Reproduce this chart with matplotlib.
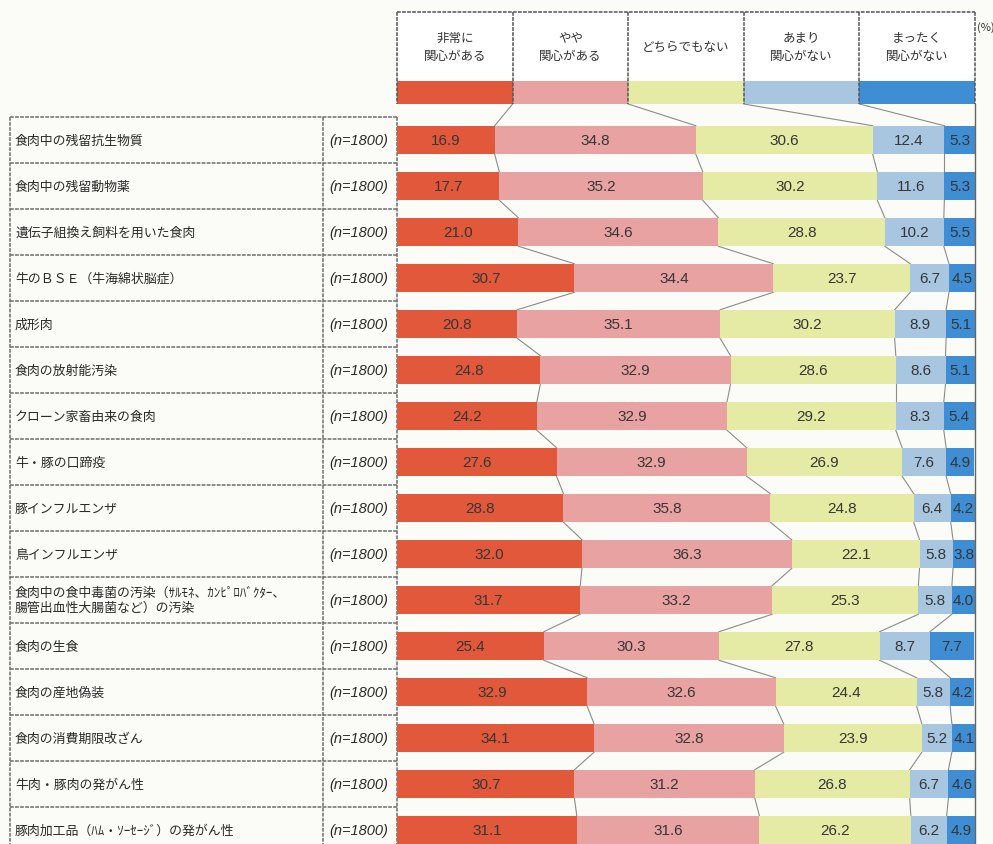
import numpy as np
from matplotlib import pyplot as plt
from matplotlib.patches import Rectangle

plt.rcParams['font.family'] = ['Noto Sans CJK JP', 'DejaVu Sans']

# 項目（上から順）
項目 = ['食肉中の残留抗生物質',
      '食肉中の残留動物薬',
      '遺伝子組換え飼料を用いた食肉',
      '牛のＢＳＥ（牛海綿状脳症）',
      '成形肉',
      '食肉の放射能汚染',
      'クローン家畜由来の食肉',
      '牛・豚の口蹄疫',
      '豚インフルエンザ',
      '鳥インフルエンザ',
      '食肉中の食中毒菌の汚染（ｻﾙﾓﾈ、ｶﾝﾋﾟﾛﾊﾞｸﾀｰ、\n腸管出血性大腸菌など）の汚染',
      '食肉の生食',
      '食肉の産地偽装',
      '食肉の消費期限改ざん',
      '牛肉・豚肉の発がん性',
      '豚肉加工品（ﾊﾑ・ｿｰｾｰｼﾞ）の発がん性']
n表示 = '(n=1800)'

非常に関心がある = [16.9, 17.7, 21.0, 30.7, 20.8, 24.8, 24.2, 27.6, 28.8, 32.0, 31.7, 25.4, 32.9, 34.1, 30.7, 31.1]
やや関心がある = [34.8, 35.2, 34.6, 34.4, 35.1, 32.9, 32.9, 32.9, 35.8, 36.3, 33.2, 30.3, 32.6, 32.8, 31.2, 31.6]
どちらでもない = [30.6, 30.2, 28.8, 23.7, 30.2, 28.6, 29.2, 26.9, 24.8, 22.1, 25.3, 27.8, 24.4, 23.9, 26.8, 26.2]
あまり関心がない = [12.4, 11.6, 10.2, 6.7, 8.9, 8.6, 8.3, 7.6, 6.4, 5.8, 5.8, 8.7, 5.8, 5.2, 6.7, 6.2]
まったく関心がない = [5.3, 5.3, 5.5, 4.5, 5.1, 5.1, 5.4, 4.9, 4.2, 3.8, 4.0, 7.7, 4.2, 4.1, 4.6, 4.9]

凡例 = ['非常に\n関心がある', 'やや\n関心がある', 'どちらでもない', 'あまり\n関心がない', 'まったく\n関心がない']
色 = ['#e1583b', '#e8a2a2', '#e5eba5', '#a8c6df', '#3f8dd2']

# レイアウト（ピクセル）
W, H = 993, 845
X0, X1 = 397, 975      # 0% / 100%
ROW0, ROWH = 141, 46   # 1行目の中心, 行間
scale = (X1 - X0) / 100


def px_x(p):
    return (p - X0) / scale


def px_y(p):
    return (p - ROW0) / ROWH


def main():
    fig = plt.figure(figsize=(W / 100, H / 100), dpi=100)
    fig.patch.set_facecolor('#fbfbf7')
    ax = fig.add_axes([0, 0, 1, 1])
    ax.set_xlim(px_x(0), px_x(W))
    ax.set_ylim(px_y(H), px_y(0))
    ax.axis('off')

    data = np.array([非常に関心がある, やや関心がある, どちらでもない,
                     あまり関心がない, まったく関心がない]).T
    n = len(項目)
    y = np.arange(n)
    h = 0.62
    cum = np.hstack([np.zeros((n, 1)), np.cumsum(data, axis=1)])

    # 左の表
    line_kw = dict(color='#6e6e6e', lw=1.1, ls=(0, (2.5, 0.8)))
    for k in range(n + 1):
        ax.plot([px_x(10), px_x(X0)], [k - 0.5, k - 0.5], **line_kw)
    for xp in [10, 323, X0]:
        ax.plot([px_x(xp)] * 2, [-0.5, px_y(H)], **line_kw)
    for i, name in enumerate(項目):
        ax.text(px_x(15), i, name, ha='left', va='center', fontsize=9.3, color='#2a2a2a')
        ax.text(px_x(329), i, n表示, ha='left', va='center', fontsize=10.5,
                style='italic', family=['Liberation Sans', 'DejaVu Sans'], color='#2a2a2a')

    # 帯グラフ
    for j in range(5):
        ax.barh(y, data[:, j], left=cum[:, j], height=h, color=色[j], edgecolor='none', zorder=2)
        for i in range(n):
            v = data[i, j]
            ax.text(cum[i, j] + v / 2, i, f'{v:.1f}', ha='center', va='center', fontsize=11,
                    family=['Liberation Sans', 'DejaVu Sans'], color='#363636', zorder=3)

    # 行間の連結線
    for i in range(n - 1):
        for k in range(1, 5):
            ax.plot([cum[i, k], cum[i + 1, k]], [i + h / 2, i + 1 - h / 2],
                    color='#8c8c8c', lw=0.8, zorder=1)

    # 凡例ヘッダー
    top, mid, bot = px_y(13), px_y(82), px_y(105)
    ax.add_patch(Rectangle((0, top), 100, bot - top, fill=True, facecolor='white',
                           edgecolor='none', zorder=0))
    ax.barh([(mid + bot) / 2] * 5, [20] * 5, left=np.arange(5) * 20, height=bot - mid,
            color=色, edgecolor='none', zorder=2)
    hdr_kw = dict(color='#555555', lw=1.1, ls=(0, (2.5, 0.8)), zorder=3)
    ax.plot([0, 100], [top, top], **hdr_kw)
    for k in range(6):
        ax.plot([k * 20] * 2, [top, bot], **hdr_kw)
    ax.plot([100, 100], [bot, px_y(H)], color='#666666', lw=1.0, zorder=3)
    for k, lab in enumerate(凡例):
        ax.text(k * 20 + 10, px_y(47), lab, ha='center', va='center', fontsize=9,
                color='#333333', linespacing=1.5)
    for k in range(1, 5):
        ax.plot([k * 20, cum[0, k]], [bot, -h / 2], color='#8c8c8c', lw=0.8, zorder=1)
    ax.text(px_x(977), px_y(28), '(%)', ha='left', va='center', fontsize=8, color='#333333')

    fig.savefig('out.png', dpi=100, facecolor=fig.get_facecolor())


if __name__ == '__main__':
    main()
